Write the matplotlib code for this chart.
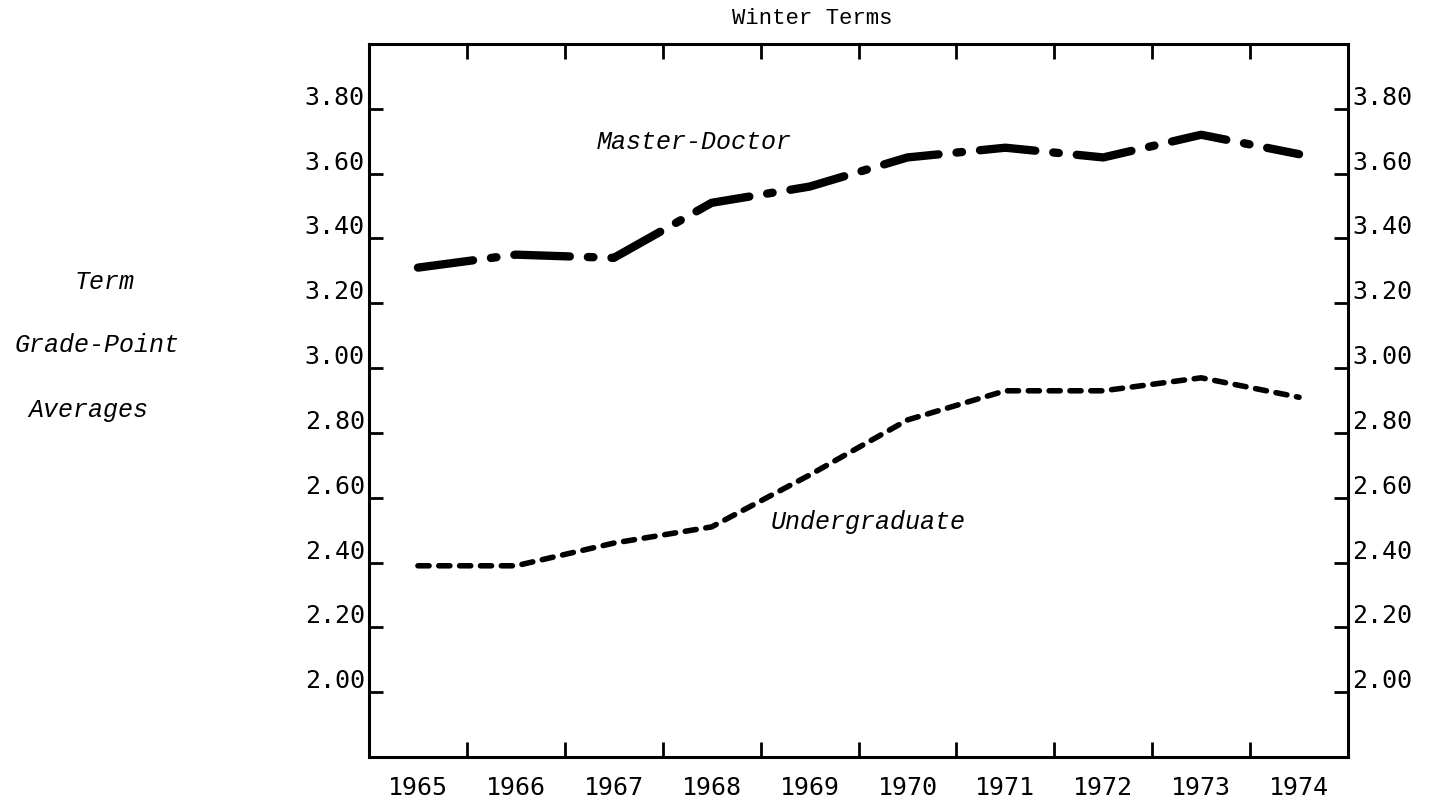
import matplotlib.pyplot as plt

plt.rcParams['lines.scale_dashes'] = False

# winter term grade-point averages
years = [1965, 1966, 1967, 1968, 1969, 1970, 1971, 1972, 1973, 1974]
master_doctor = [3.31, 3.35, 3.34, 3.51, 3.56, 3.65, 3.68, 3.65, 3.72, 3.66]
undergrad = [2.39, 2.39, 2.46, 2.51, 2.67, 2.84, 2.93, 2.93, 2.97, 2.91]
gpa_ticks = [2.00, 2.20, 2.40, 2.60, 2.80, 3.00, 3.20, 3.40, 3.60, 3.80]

W, H = 1436, 804
fig = plt.figure(figsize=(W / 100, H / 100), dpi=100)
ax = fig.add_axes([369 / W, 1 - 758 / H, (1348 - 369) / W, (758 - 45) / H])

ax.plot(years, master_doctor, color='black', lw=6, dashes=(40, 13, 4, 13),
        dash_capstyle='round')
ax.plot(years, undergrad, color='black', lw=4, dashes=(8, 7),
        dash_capstyle='round')

ax.set_xlim(years[0] - 0.5, years[-1] + 0.5)
ax.set_ylim(1.8, 4.0)

# year labels sit between the tick marks
ax.set_xticks([y + 0.5 for y in years[:-1]])
ax.set_xticklabels([])
ax.set_xticks(years, minor=True)
ax.set_xticklabels([str(y) for y in years], minor=True,
                   family='DejaVu Sans Mono', fontsize=18)
ax.tick_params(axis='x', which='minor', length=0, pad=13)
ax.tick_params(axis='x', which='major', direction='in', length=11, width=2,
               top=True)

ax.set_yticks(gpa_ticks)
ax.set_yticklabels(['%.2f' % v for v in gpa_ticks], family='DejaVu Sans Mono',
                   fontsize=18)
ax.tick_params(axis='y', direction='in', length=10, width=2, right=True,
               labelright=True, pad=3)
for lab in ax.get_yticklabels():
    lab.set_verticalalignment('bottom')

for s in ax.spines.values():
    s.set_linewidth(2.2)

fig.text(812 / W, 1 - 18 / H, 'Winter Terms', family='Liberation Mono',
         fontsize=16, ha='center', va='center')
fig.text(694 / W, 1 - 142 / H, 'Master-Doctor', family='Liberation Mono',
         style='italic', fontsize=18, ha='center', va='center')
fig.text(868 / W, 1 - 522 / H, 'Undergraduate', family='Liberation Mono',
         style='italic', fontsize=18, ha='center', va='center')
fig.text(105 / W, 1 - 282 / H, 'Term', family='Liberation Mono',
         style='italic', fontsize=18, ha='center', va='center')
fig.text(97 / W, 1 - 345 / H, 'Grade-Point', family='Liberation Mono',
         style='italic', fontsize=18, ha='center', va='center')
fig.text(88 / W, 1 - 410 / H, 'Averages', family='Liberation Mono',
         style='italic', fontsize=18, ha='center', va='center')

fig.savefig('out.png', dpi=100)
